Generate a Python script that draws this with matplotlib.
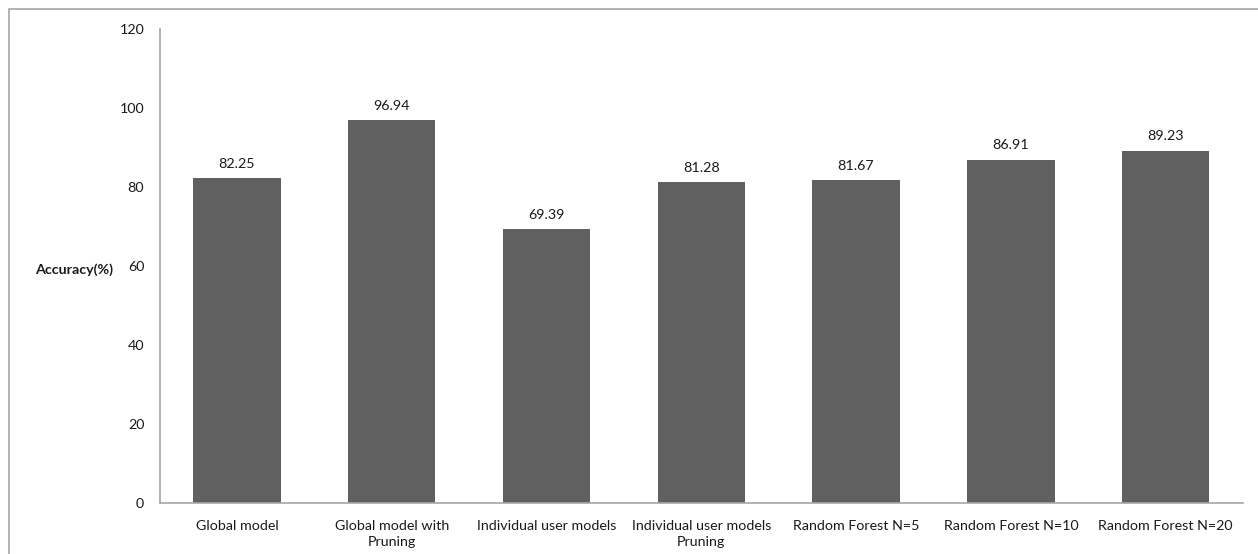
import matplotlib
matplotlib.use("Agg")
import matplotlib.pyplot as plt
from matplotlib.patches import Rectangle

categories = [
    "Global model",
    "Global model with\nPruning",
    "Individual user models",
    "Individual user models\nPruning",
    "Random Forest N=5",
    "Random Forest N=10",
    "Random Forest N=20",
]
accuracy = [82.25, 96.94, 69.39, 81.28, 81.67, 86.91, 89.23]
yticks = [0, 20, 40, 60, 80, 100, 120]

plt.rcParams["font.family"] = ["Lato", "DejaVu Sans"]
FS = 10.3
TXT = "#1a1a1a"

W, H = 1258, 554
fig = plt.figure(figsize=(W / 100, H / 100), dpi=100)

# outer chart frame (open at right and bottom)
fig.patches.append(Rectangle((9 / W, -0.1), 1.2, 1 - 9 / H + 0.1,
                             transform=fig.transFigure, fill=False,
                             edgecolor="#a6a6a6", linewidth=1.2))

left, right, top, bottom = 159.5, 1243, 29, 503
ax = fig.add_axes([left / W, 1 - bottom / H, (right - left) / W, (bottom - top) / H])

x = list(range(len(categories)))
ax.bar(x, accuracy, width=0.565, color="#606060", zorder=2)
for xi, v in zip(x, accuracy):
    ax.annotate(f"{v:.2f}", (xi, v), xytext=(0, 6), textcoords="offset points",
                ha="center", va="bottom", fontsize=FS, color=TXT)

ax.set_xlim(-0.5, len(categories) - 0.5)
ax.set_ylim(0, 120)
ax.set_yticks(yticks)
ax.set_yticklabels([str(t) for t in yticks], fontsize=FS, color=TXT)
ax.set_xticks(x)
ax.set_xticklabels(categories, fontsize=FS, color=TXT, linespacing=1.35)
ax.tick_params(axis="both", length=0)
ax.tick_params(axis="y", pad=11)
ax.tick_params(axis="x", pad=12.5)

for side in ("top", "right"):
    ax.spines[side].set_visible(False)
for side in ("left", "bottom"):
    ax.spines[side].set_color("#a6a6a6")
    ax.spines[side].set_linewidth(1.2)

fig.text(35 / W, 1 - 270 / H, "Accuracy(%)", fontsize=FS, fontweight="bold",
         ha="left", va="center", color=TXT)

fig.savefig("out.png", dpi=100, facecolor="white")
